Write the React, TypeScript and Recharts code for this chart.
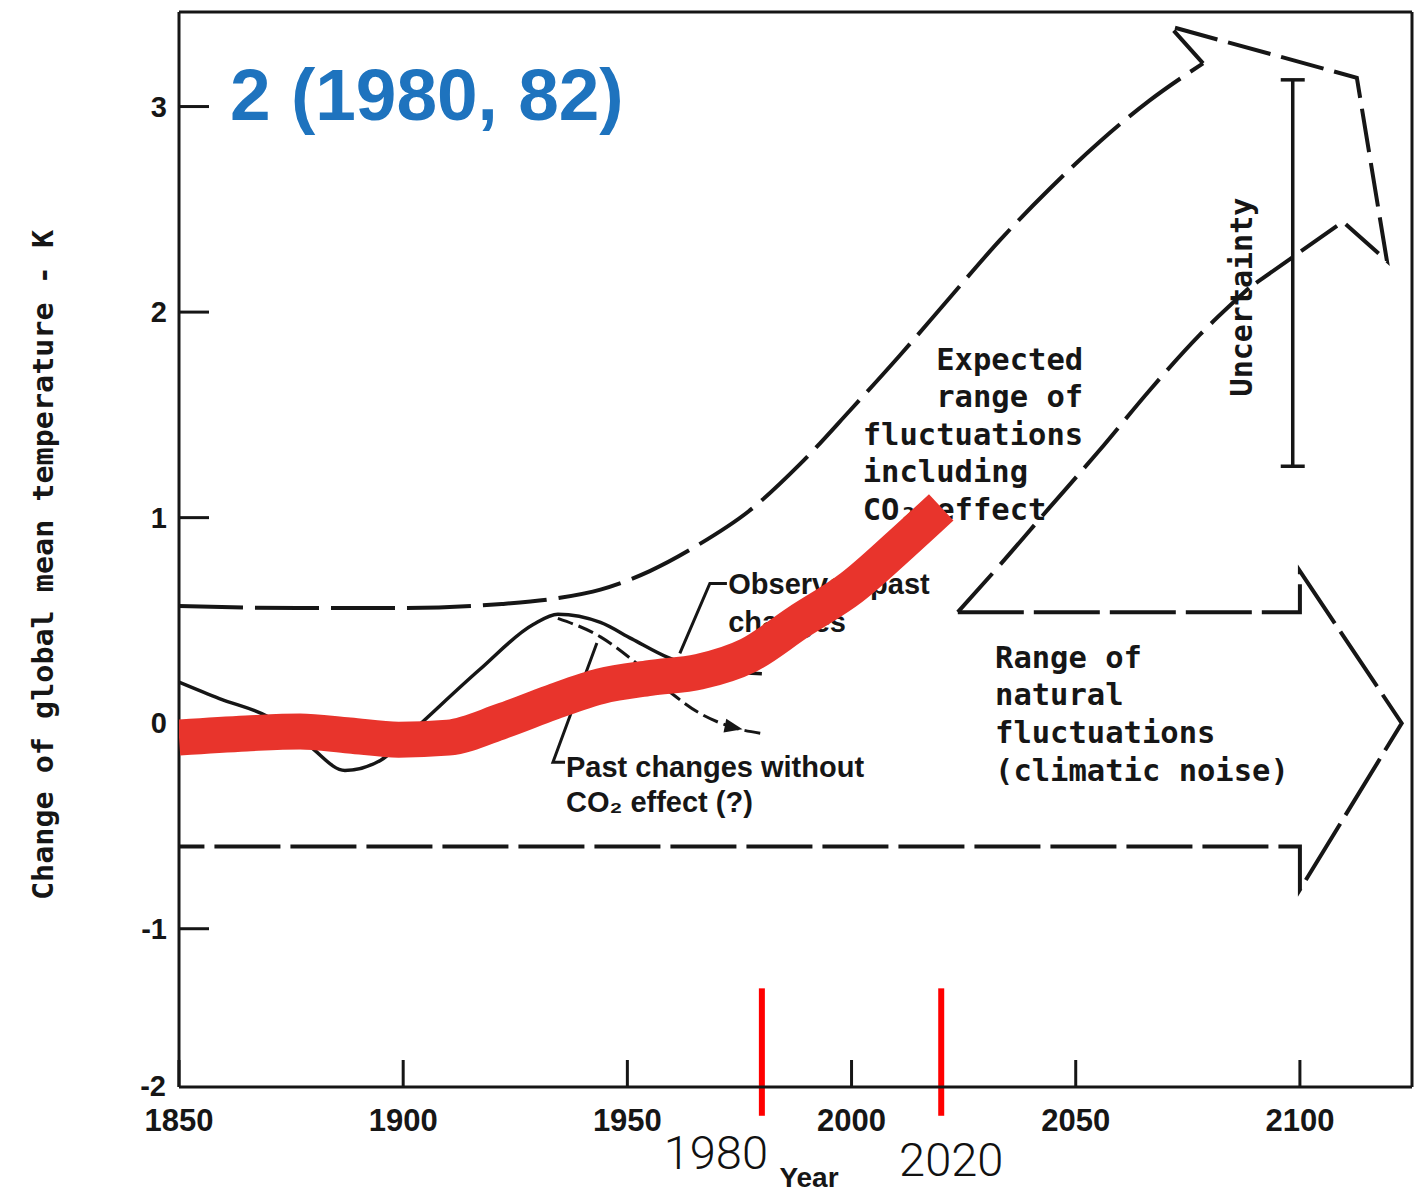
import React from "react"
import {
  ComposedChart,
  Line,
  XAxis,
  YAxis,
  ReferenceLine,
  ReferenceDot,
  Scatter,
  ErrorBar,
} from "recharts"

// axes
const xTicks = [1850, 1900, 1950, 2000, 2050, 2100]
const yTicks = [-1, 0, 1, 2, 3]
const xDomain = [1850, 2125]
const yDomain = [-1.77, 3.46]

// red overlay (observed record up to 2020)
const redYears = [1850, 1865, 1877, 1888, 1899, 1910, 1922, 1933, 1944, 1955, 1966, 1977, 1988, 2000, 2011, 2020]
const redValues = [-0.07, -0.05, -0.04, -0.06, -0.08, -0.07, 0.01, 0.1, 0.18, 0.22, 0.25, 0.33, 0.49, 0.66, 0.87, 1.05]

// observed past changes (solid black)
const observedYears = [1850, 1859, 1870, 1879, 1887, 1895, 1904, 1917, 1929, 1934.5, 1944, 1951, 1959, 1966, 1973, 1980]
const observedValues = [0.2, 0.12, 0.03, -0.11, -0.23, -0.18, 0.0, 0.26, 0.48, 0.53, 0.49, 0.41, 0.32, 0.27, 0.25, 0.24]

// past changes without CO2 effect
const noCo2Years = [1934.5, 1944, 1951, 1959, 1966, 1973.5, 1980]
const noCo2Values = [0.51, 0.42, 0.31, 0.16, 0.05, -0.02, -0.05]

// expected range including CO2: upper edge, arrow head, lower edge
const upperYears = [1850, 1877, 1899, 1922, 1935, 1944, 1955, 1966, 1977, 1988.5, 1999.6, 2010.8, 2021.9, 2033.1, 2044.2, 2055.4, 2066.5, 2078.4]
const upperValues = [0.57, 0.56, 0.56, 0.58, 0.61, 0.65, 0.74, 0.87, 1.03, 1.26, 1.52, 1.79, 2.07, 2.35, 2.6, 2.83, 3.03, 3.21]
const headYears = [2078.4, 2071, 2112.7, 2119.4, 2109.6, 2088.8]
const headValues = [3.21, 3.39, 3.14, 2.25, 2.44, 2.12]
const lowerYears = [2023.7, 2033.1, 2044.2, 2055.4, 2066.5, 2077.7, 2088.8]
const lowerValues = [0.54, 0.77, 1.05, 1.33, 1.62, 1.89, 2.12]

// range of natural fluctuations (band + arrow)
const naturalYears = [2023.7, 2100, 2100, 2122.7, 2100, 2100, 1850]
const naturalValues = [0.54, 0.54, 0.74, 0.0, -0.81, -0.6, -0.6]

// label leader lines
const obsLeaderYears = [1961.7, 1968.4, 1972.2]
const obsLeaderValues = [0.34, 0.68, 0.68]
const noCo2LeaderYears = [1943.2, 1933.4, 1936.1]
const noCo2LeaderValues = [0.39, -0.19, -0.19]

// uncertainty bar
const uncertaintyYear = 2098.4
const uncertaintyRange = [1.25, 3.13]

// red year markers
const markerYears = [1980, 2020]
const markerLabels = ["1980", "2020"]
const markerSpan = [-1.29, -1.91]

// notes
const expectedNote = ["    Expected", "    range of", "fluctuations", "including", "CO₂ effect"]
const naturalNote = ["Range of", "natural", "fluctuations", "(climatic noise)"]
const observedNote = ["Observed past", "changes"]
const noCo2Note = ["Past changes without", "CO₂ effect (?)"]

const ink = "#161616"
const mono = "'DejaVu Sans Mono', monospace"
const sans = "'Liberation Sans', Arial, sans-serif"

const zip = (xs: number[], ys: number[]) => xs.map((x, i) => ({ x, y: ys[i] }))

const uncertaintyMid = (uncertaintyRange[0] + uncertaintyRange[1]) / 2
const uncertaintyData = [
  { x: uncertaintyYear, y: uncertaintyMid, err: [uncertaintyMid - uncertaintyRange[0], uncertaintyRange[1] - uncertaintyMid] },
]

const markerShift = [
  { dx: -46, dy: 53 },
  { dx: 10, dy: 60 },
]

const noteLabel =
  (lines: string[], lineHeight: number, font: string, size: number) =>
  (props: any) => {
    const vb = props.viewBox || {}
    return (
      <text
        x={vb.x}
        y={vb.y}
        fill={ink}
        fontFamily={font}
        fontWeight={700}
        fontSize={size}
        xmlSpace="preserve"
        style={{ whiteSpace: "pre" }}
      >
        {lines.map((l, i) => (
          <tspan key={i} x={vb.x} dy={i ? lineHeight : 0}>
            {l}
          </tspan>
        ))}
      </text>
    )
  }

const uncertaintyLabel = (props: any) => {
  const vb = props.viewBox || {}
  return (
    <text
      x={vb.x}
      y={vb.y}
      transform={`rotate(-90 ${vb.x} ${vb.y})`}
      fill={ink}
      fontFamily={mono}
      fontWeight={700}
      fontSize={30}
    >
      Uncertainty
    </text>
  )
}

const markerLabel = (i: number) => (props: any) => {
  const vb = props.viewBox || {}
  return (
    <text
      x={vb.x + markerShift[i].dx}
      y={vb.y + (vb.height || 0) + markerShift[i].dy}
      textAnchor="middle"
      fill="#111"
      fontFamily="Roboto, 'Liberation Sans', sans-serif"
      fontWeight={300}
      fontSize={47}
    >
      {markerLabels[i]}
    </text>
  )
}

const arrowDot = (props: any) => {
  const { cx, cy, index } = props
  if (index !== noCo2Years.length - 2) return <g key={index} />
  const a = 0.2
  const pts = [
    [10, 0],
    [-8, -7],
    [-8, 7],
  ]
    .map(([px, py]) => `${cx + px * Math.cos(a) - py * Math.sin(a)},${cy + px * Math.sin(a) + py * Math.cos(a)}`)
    .join(" ")
  return <polygon key={index} points={pts} fill={ink} />
}

export default function App() {
  const dashed = { stroke: ink, strokeWidth: 4, dot: false, activeDot: false, isAnimationActive: false, dataKey: "y" }
  return (
    <div style={{ position: "absolute", left: 0, top: 0, width: 1416, height: 1196, background: "#fff" }}>
      <ComposedChart width={1416} height={1196} margin={{ top: 0, right: 0, bottom: 0, left: 0 }} style={{ fontFamily: sans }}>
        <XAxis
          dataKey="x"
          type="number"
          domain={xDomain}
          ticks={xTicks}
          interval={0}
          allowDataOverflow
          height={109}
          axisLine={{ stroke: ink, strokeWidth: 3 }}
          tickLine={{ stroke: ink, strokeWidth: 3 }}
          tickSize={-27}
          tickMargin={49}
          tick={{ fill: ink, fontSize: 31, fontWeight: 700, fontFamily: sans }}
        />
        <XAxis
          xAxisId="top"
          orientation="top"
          dataKey="x"
          type="number"
          domain={xDomain}
          ticks={xTicks}
          interval={0}
          allowDataOverflow
          height={12}
          axisLine={{ stroke: ink, strokeWidth: 3 }}
          tickLine={{ stroke: ink, strokeWidth: 3 }}
          tickSize={-30}
          tick={false}
        />
        <YAxis
          type="number"
          domain={yDomain}
          ticks={yTicks}
          interval={0}
          allowDataOverflow
          width={179}
          axisLine={{ stroke: ink, strokeWidth: 3 }}
          tickLine={{ stroke: ink, strokeWidth: 3 }}
          tickSize={-30}
          tickMargin={42}
          tick={{ fill: ink, fontSize: 29, fontWeight: 700, fontFamily: sans }}
        />
        <YAxis
          yAxisId="right"
          orientation="right"
          type="number"
          domain={yDomain}
          ticks={yTicks}
          interval={0}
          allowDataOverflow
          width={4}
          axisLine={{ stroke: ink, strokeWidth: 3 }}
          tickLine={{ stroke: ink, strokeWidth: 3 }}
          tickSize={-29}
          tick={false}
        />

        <Line {...dashed} data={zip(naturalYears, naturalValues)} type="linear" strokeDasharray="66 10" />
        <Line {...dashed} data={zip(upperYears, upperValues)} type="monotone" strokeDasharray="64 12" />
        <Line {...dashed} data={zip(headYears, headValues)} type="linear" strokeDasharray="44 11" />
        <Line {...dashed} data={zip(lowerYears, lowerValues)} type="monotone" strokeDasharray="52 12" />
        <Line {...dashed} data={zip(observedYears, observedValues)} type="monotone" strokeWidth={3.5} />
        <Line
          {...dashed}
          data={zip(noCo2Years, noCo2Values)}
          type="monotone"
          strokeWidth={3}
          strokeDasharray="16 6"
          dot={arrowDot}
        />
        <Line {...dashed} data={zip(obsLeaderYears, obsLeaderValues)} type="linear" strokeWidth={3} />
        <Line {...dashed} data={zip(noCo2LeaderYears, noCo2LeaderValues)} type="linear" strokeWidth={3} />

        <Scatter data={uncertaintyData} dataKey="y" shape={() => <g />} isAnimationActive={false}>
          <ErrorBar dataKey="err" direction="y" width={12} stroke={ink} strokeWidth={3.5} />
        </Scatter>

        <ReferenceDot x={2002.5} y={1.72} r={0} fill="none" stroke="none" ifOverflow="visible" label={noteLabel(expectedNote, 37.5, mono, 30.5)} />
        <ReferenceDot x={2032} y={0.27} r={0} fill="none" stroke="none" ifOverflow="visible" label={noteLabel(naturalNote, 37.7, mono, 30.5)} />
        <ReferenceDot x={1972.5} y={0.63} r={0} fill="none" stroke="none" ifOverflow="visible" label={noteLabel(observedNote, 38, sans, 29)} />
        <ReferenceDot x={1936.3} y={-0.26} r={0} fill="none" stroke="none" ifOverflow="visible" label={noteLabel(noCo2Note, 35, sans, 29)} />
        <ReferenceDot x={2089.3} y={1.59} r={0} fill="none" stroke="none" ifOverflow="visible" label={uncertaintyLabel} />

        {markerYears.map((yr, i) => (
          <ReferenceLine
            key={yr}
            segment={[
              { x: yr, y: markerSpan[0] },
              { x: yr, y: markerSpan[1] },
            ]}
            stroke="#ff0000"
            strokeWidth={6}
            ifOverflow="visible"
            label={markerLabel(i)}
          />
        ))}

        <Line
          data={zip(redYears, redValues)}
          dataKey="y"
          type="monotone"
          stroke="#e8342c"
          strokeWidth={36}
          dot={false}
          activeDot={false}
          isAnimationActive={false}
          zIndex={2500}
        />
      </ComposedChart>

      <svg width={1416} height={1196} style={{ position: "absolute", left: 0, top: 0, pointerEvents: "none" }}>
        <text x={230} y={120} fill="#1e73be" fontFamily={sans} fontWeight={700} fontSize={73}>
          2 (1980, 82)
        </text>
        <text
          x={53}
          y={565}
          transform="rotate(-90 53 565)"
          textAnchor="middle"
          fill={ink}
          fontFamily={mono}
          fontWeight={700}
          fontSize={28}
          textLength={670}
          lengthAdjust="spacingAndGlyphs"
        >
          Change of global mean temperature - K
        </text>
        <text x={166} y={1096} textAnchor="end" fill={ink} fontFamily={sans} fontWeight={700} fontSize={29}>
          -2
        </text>
        <text x={809} y={1187} textAnchor="middle" fill={ink} fontFamily={sans} fontWeight={700} fontSize={28}>
          Year
        </text>
      </svg>
    </div>
  )
}
